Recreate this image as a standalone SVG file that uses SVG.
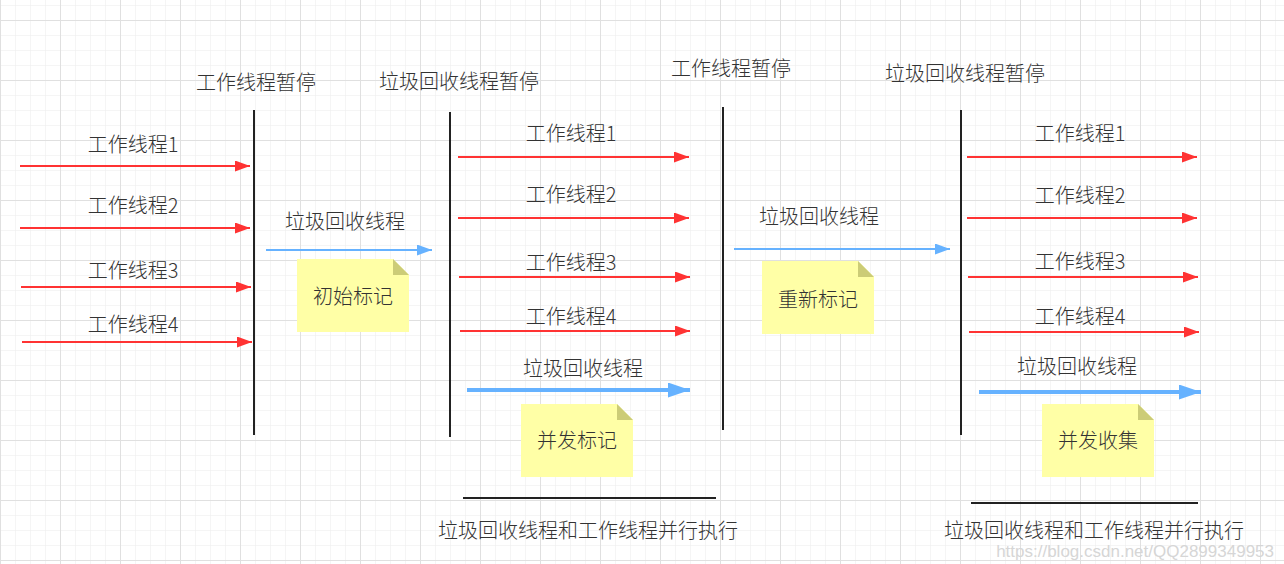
<svg xmlns="http://www.w3.org/2000/svg" width="1284" height="564" viewBox="0 0 1284 564">
<defs>
<pattern id="minor" width="15" height="15" patternUnits="userSpaceOnUse" y="5">
<path d="M0 0H15M0 0V15" fill="none" stroke="#ececec" stroke-width="1"/>
</pattern>
<pattern id="major" width="60" height="60" patternUnits="userSpaceOnUse" y="20">
<path d="M0 0.5H60M0.5 0V60" fill="none" stroke="#e0e0e0" stroke-width="1"/>
</pattern>
<marker id="redHead" markerUnits="userSpaceOnUse" markerWidth="15" markerHeight="11" refX="15" refY="5.5" orient="auto">
<path d="M0 0L15 5.5L0 11z" fill="#ff3333"/>
</marker>
<marker id="blueHead" markerUnits="userSpaceOnUse" markerWidth="15" markerHeight="11" refX="15" refY="5.5" orient="auto">
<path d="M0 0L15 5.5L0 11z" fill="#66b2ff"/>
</marker>
<marker id="blueBig" markerUnits="userSpaceOnUse" markerWidth="22" markerHeight="15" refX="22" refY="7.5" orient="auto">
<path d="M0 0L22 7.5L0 15z" fill="#66b2ff"/>
</marker>
</defs>
<style>
text{font-family:"Noto Sans CJK SC",sans-serif;font-size:20px;font-weight:300;fill:#333;text-anchor:middle}
.red{stroke:#ff3333;stroke-width:2;fill:none;marker-end:url(#redHead)}
.blue{stroke:#66b2ff;stroke-width:2;fill:none;marker-end:url(#blueHead)}
.thick{stroke:#66b2ff;stroke-width:4;fill:none;marker-end:url(#blueBig)}
.bar{stroke:#222;stroke-width:2;fill:none}
.note{fill:#ffffa6}
.fold{fill:#cccc77}
.wm{font-family:"Liberation Sans",sans-serif;font-size:17px;font-weight:400;fill:#d6d6d6;text-anchor:end}
</style>
<rect width="1284" height="564" fill="#fff"/>
<rect width="1284" height="564" fill="url(#minor)"/>
<rect width="1284" height="564" fill="url(#major)"/>

<g id="connectors">
<line class="red" x1="20" y1="166" x2="250" y2="166"/>
<line class="red" x1="20" y1="228" x2="250" y2="228"/>
<line class="red" x1="21" y1="287" x2="251" y2="287"/>
<line class="red" x1="22" y1="342" x2="252" y2="342"/>
<line class="blue" x1="266" y1="250" x2="432" y2="250"/>
<line class="red" x1="458" y1="157" x2="689" y2="157"/>
<line class="red" x1="458" y1="218" x2="689" y2="218"/>
<line class="red" x1="459" y1="277" x2="690" y2="277"/>
<line class="red" x1="460" y1="331" x2="690" y2="331"/>
<line class="thick" x1="467" y1="390" x2="690" y2="390"/>
<line class="blue" x1="734" y1="249" x2="950" y2="249"/>
<line class="red" x1="967" y1="157" x2="1197" y2="157"/>
<line class="red" x1="967" y1="218" x2="1197" y2="218"/>
<line class="red" x1="968" y1="277" x2="1198" y2="277"/>
<line class="red" x1="969" y1="332" x2="1199" y2="332"/>
<line class="thick" x1="979" y1="392" x2="1201" y2="392"/>
</g>

<g id="labels">
<text x="133" y="152">工作线程1</text>
<text x="133" y="213">工作线程2</text>
<text x="133" y="278">工作线程3</text>
<text x="133" y="332">工作线程4</text>
<text x="345" y="229">垃圾回收线程</text>
<text x="571" y="141">工作线程1</text>
<text x="571" y="202">工作线程2</text>
<text x="571" y="270">工作线程3</text>
<text x="571" y="324">工作线程4</text>
<text x="583" y="376">垃圾回收线程</text>
<text x="819" y="224">垃圾回收线程</text>
<text x="1080" y="141">工作线程1</text>
<text x="1080" y="203">工作线程2</text>
<text x="1080" y="269">工作线程3</text>
<text x="1080" y="324">工作线程4</text>
<text x="1077" y="374">垃圾回收线程</text>
</g>

<g id="pause1">
<line class="bar" x1="254" y1="110" x2="254" y2="435"/>
<text x="256" y="90">工作线程暂停</text>
</g>
<g id="pause2">
<line class="bar" x1="450" y1="112" x2="450" y2="437"/>
<text x="459" y="89">垃圾回收线程暂停</text>
</g>
<g id="pause3">
<line class="bar" x1="723" y1="107" x2="723" y2="430"/>
<text x="731" y="76">工作线程暂停</text>
</g>
<g id="pause4">
<line class="bar" x1="961" y1="110" x2="961" y2="435"/>
<text x="965" y="81">垃圾回收线程暂停</text>
</g>

<g id="note1">
<path class="note" d="M297 259H393L409 275V332H297Z"/>
<path class="fold" d="M393 259L409 275H393Z"/>
<text x="353" y="304">初始标记</text>
</g>
<g id="note2">
<path class="note" d="M521 404H617L633 420V477H521Z"/>
<path class="fold" d="M617 404L633 420H617Z"/>
<text x="577" y="448">并发标记</text>
</g>
<g id="note3">
<path class="note" d="M762 261H858L874 277V334H762Z"/>
<path class="fold" d="M858 261L874 277H858Z"/>
<text x="818" y="307">重新标记</text>
</g>
<g id="note4">
<path class="note" d="M1042 404H1138L1154 420V477H1042Z"/>
<path class="fold" d="M1138 404L1154 420H1138Z"/>
<text x="1098" y="448">并发收集</text>
</g>

<g id="parallel1">
<line class="bar" x1="463" y1="498" x2="716" y2="498"/>
<text x="588" y="538">垃圾回收线程和工作线程并行执行</text>
</g>
<g id="parallel2">
<line class="bar" x1="971" y1="503" x2="1198" y2="503"/>
<text x="1094" y="538">垃圾回收线程和工作线程并行执行</text>
</g>

<text class="wm" x="1274" y="557">https://blog.csdn.net/QQ2899349953</text>
</svg>
